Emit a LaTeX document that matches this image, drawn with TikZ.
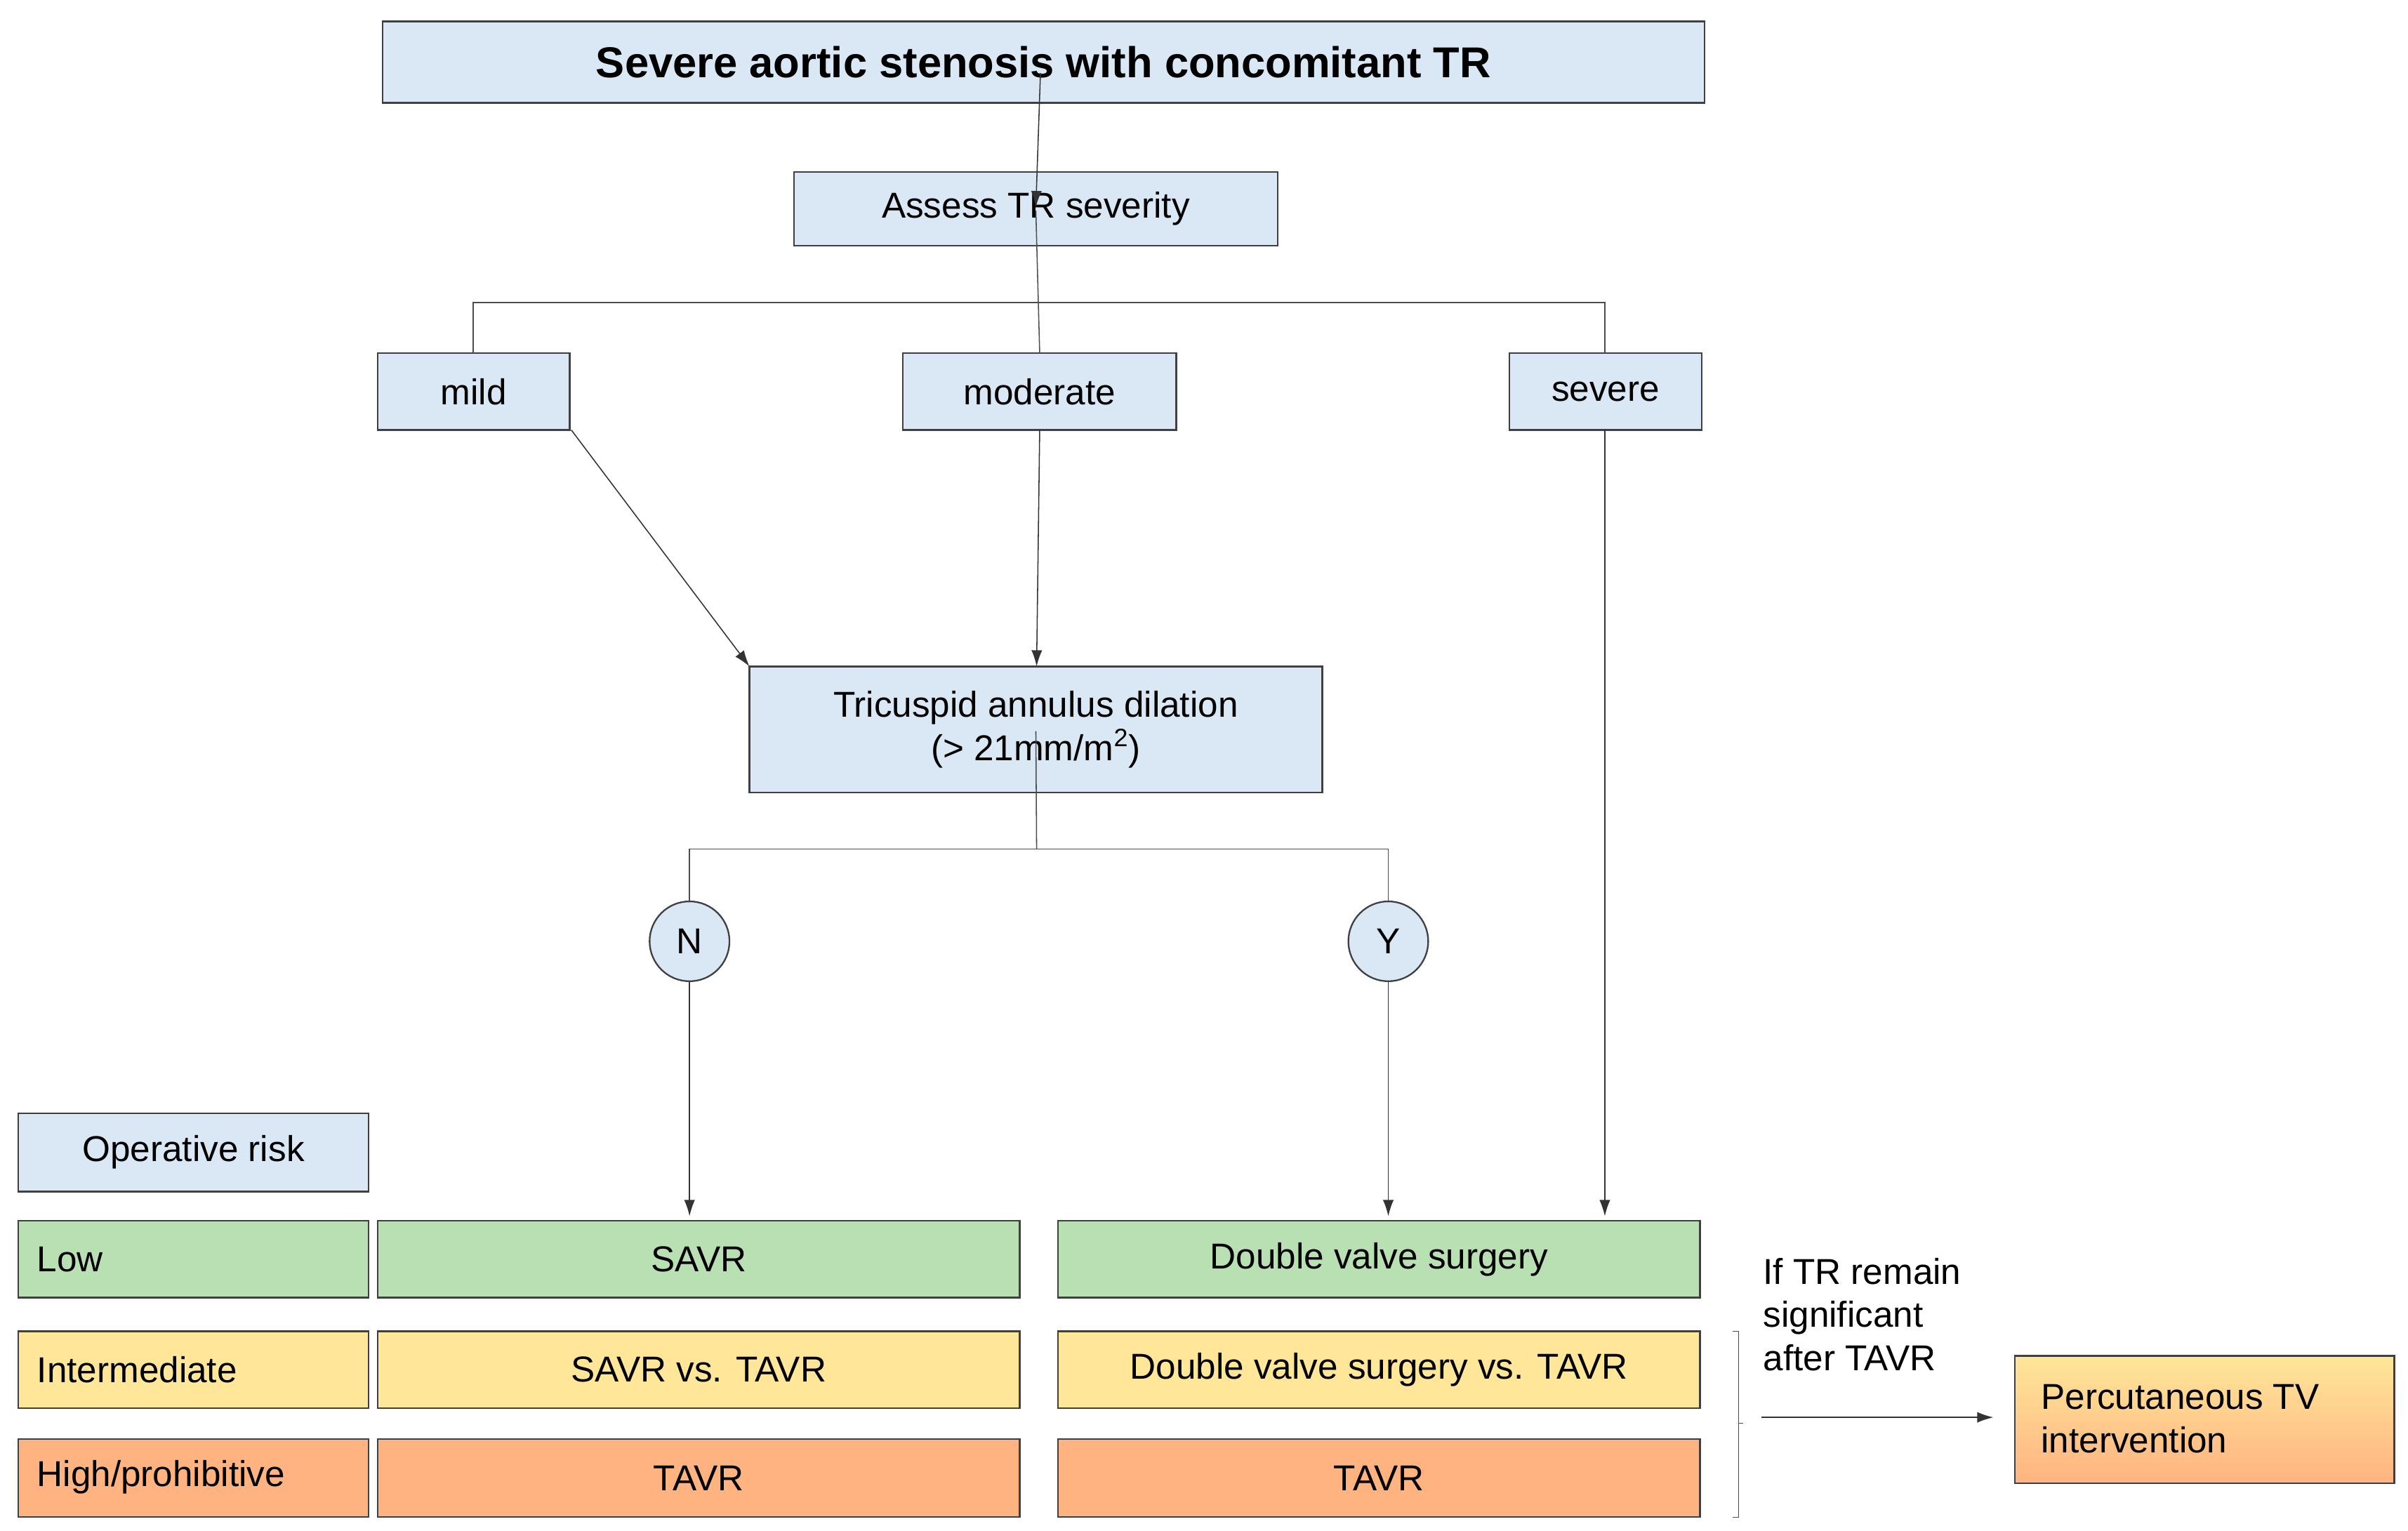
\documentclass[tikz,border=0pt]{standalone}
\usepackage{fontspec}
\setmainfont{Liberation Sans}
\usetikzlibrary{arrows.meta}
\definecolor{bl}{HTML}{DAE8F5}
\definecolor{gr}{HTML}{B9E0B3}
\definecolor{ye}{HTML}{FFE699}
\definecolor{orr}{HTML}{FFB381}
\definecolor{bd}{HTML}{404040}
\begin{document}
\begin{tikzpicture}[x=0.3mm,y=-0.3mm,
  bx/.style={draw=bd,line width=0.9pt,inner sep=0pt},
  tx/.style={font=\fontsize{20}{24}\selectfont},
  ar/.style={-{Latex[length=9pt,width=6pt]},line width=0.6pt,draw=black!80},
  ln/.style={line width=0.6pt,draw=black!70}]
\useasboundingbox[fill=white] (0,0) rectangle (1568,997);
\def\B#1#2#3#4#5#6{\path[bx,fill=#6] (#2,#3) rectangle (#4,#5) node[midway] (#1) {};}
\B{title}{249}{14}{1110}{67}{bl}
\node[tx,font=\fontsize{24}{28}\selectfont\bfseries] at (title) {Severe aortic stenosis with concomitant TR};
\B{assess}{517}{112}{832}{160}{bl}
\node[tx] at (assess) {Assess TR severity};
\B{mild}{246}{230}{371}{280}{bl}
\node[tx] at (mild) {mild};
\B{mod}{588}{230}{766}{280}{bl}
\node[tx] at (mod) {moderate};
\B{sev}{983}{230}{1108}{280}{bl}
\node[tx] at (sev) {severe};
\B{tad}{488}{434}{861}{516}{bl}
\node[tx,align=center] at (tad) {Tricuspid annulus dilation\\(> 21mm/m\textsuperscript{2})};
\node[circle,draw=bd,fill=bl,line width=0.9pt,minimum size=15.6mm,inner sep=0pt,tx] (N) at (449,613) {N};
\node[circle,draw=bd,fill=bl,line width=0.9pt,minimum size=15.6mm,inner sep=0pt,tx] (Y) at (904,613) {Y};
\B{op}{12}{725}{240}{776}{bl}
\node[tx] at (op) {Operative risk};
\B{low}{12}{795}{240}{845}{gr}
\node[tx,anchor=west] at (20,820) {Low};
\B{int}{12}{867}{240}{917}{ye}
\node[tx,anchor=west] at (20,892) {Intermediate};
\B{high}{12}{937}{240}{988}{orr}
\node[tx,anchor=west] at (20,962) {High/prohibitive};
\B{savr}{246}{795}{664}{845}{gr}
\node[tx] at (savr) {SAVR};
\B{svt}{246}{867}{664}{917}{ye}
\node[tx] at (svt) {SAVR vs. TAVR};
\B{tavr1}{246}{937}{664}{988}{orr}
\node[tx] at (tavr1) {TAVR};
\B{dvs}{689}{795}{1107}{845}{gr}
\node[tx] at (dvs) {Double valve surgery};
\B{dvt}{689}{867}{1107}{917}{ye}
\node[tx] at (dvt) {Double valve surgery vs. TAVR};
\B{tavr2}{689}{937}{1107}{988}{orr}
\node[tx] at (tavr2) {TAVR};
\path[bx,top color=ye,bottom color=orr] (1312,883) rectangle (1559,966) node[midway] (perc) {};
\node[tx,anchor=west,align=left] at (1325,924) {Percutaneous TV\\intervention};
\node[tx,anchor=north west,align=left] (cond) at (1144,815) {If TR remain\\significant\\after TAVR};
% connectors
\draw[ar] (title.south) ++(-2,6) coordinate (t0) -- (assess.north);
\coordinate (b1) at (677,197);
\draw[ln] (assess.south) -- (677,230);
\draw[ln] (308,230) -- (308,197) -- (1045,197) -- (1045,230);
\draw[ar] (372,280) -- (488,434);
\draw[ar] (677,280) -- (675,434);
\draw[ln] (tad.south) -- (675,553);
\draw[ln] (N.north) -- (449,553) -- (904,553) -- (Y.north);
\draw[ar] (N.south) -- (449,792);
\draw[ar] (Y.south) -- (904,792);
\draw[ar] (1045,280) -- (1045,792);
\draw[line width=0.5pt,draw=black!70] (1128,867) -- (1132,867) -- (1132,988) -- (1128,988) (1132,927) -- (1135,927);
\draw[ar] (1147,923) -- (1298,923);
\end{tikzpicture}
\end{document}
